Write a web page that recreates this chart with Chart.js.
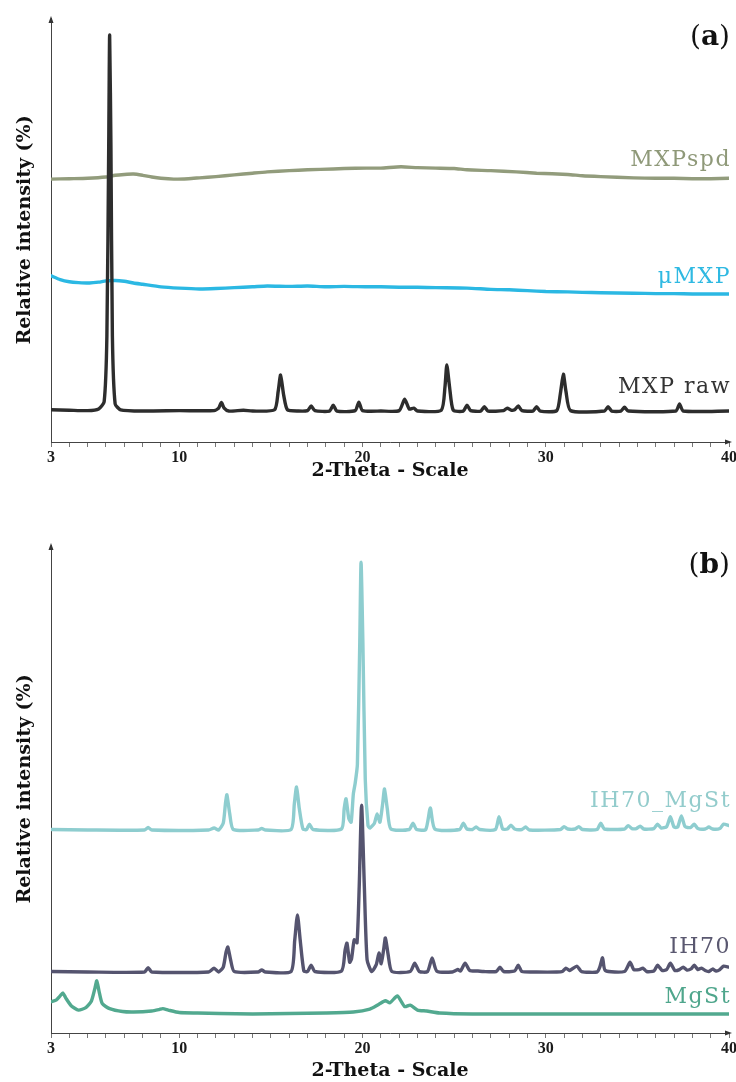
<!DOCTYPE html>
<html>
<head>
<meta charset="utf-8">
<script src="https://cdn.jsdelivr.net/npm/chart.js@4.4.0/dist/chart.umd.min.js"></script>
<style>
  html, body { margin: 0; padding: 0; background: #fff; overflow: hidden; }
  .panel { position: absolute; left: 0; width: 736px; }
  #panelA { top: 0; height: 500px; }
  #panelB { top: 520px; height: 562px; }
</style>
</head>
<body>
<div class="panel" id="panelA"><canvas id="chartA"></canvas></div>
<div class="panel" id="panelB"><canvas id="chartB"></canvas></div>
<script>
// tick labels shown on the 2-theta axis
const thetaLabels = [3, 10, 20, 30, 40];

// ---- panel (a) ----
const mxpRawTheta = [3, 4, 5, 5.6, 5.9, 6.05, 6.15, 6.2, 6.27, 6.35, 6.5, 6.8, 8, 10, 11.9, 12.15, 12.3, 12.45, 12.7, 13.5, 14,
  15.2, 15.4, 15.53, 15.7, 15.9, 16.5, 17.0, 17.2, 17.4, 18.2, 18.4, 18.6, 19.6, 19.8, 20.0, 21, 22.0, 22.3, 22.55, 22.8, 23.0,
  24.3, 24.5, 24.6, 24.75, 24.95, 25.5, 25.7, 25.9, 26.45, 26.65, 26.85, 27.7, 27.9, 28.1, 28.3, 28.5, 28.7, 29.3, 29.5, 29.7,
  30.6, 30.8, 30.96, 31.1, 31.35, 33.2, 33.4, 33.6, 34.1, 34.3, 34.5, 37.1, 37.3, 37.5, 40];
const mxpRawInt = [7.6, 7.5, 7.4, 7.8, 9.5, 25, 70, 96, 70, 25, 9, 7.6, 7.3, 7.4, 7.4, 8, 9.3, 8, 7.3, 7.5, 7.3,
  7.6, 12, 15.8, 11, 7.6, 7.3, 7.4, 8.5, 7.4, 7.3, 8.7, 7.3, 7.4, 9.4, 7.4, 7.3, 7.4, 10.1, 7.8, 8.0, 7.3,
  7.5, 13, 18.2, 13, 7.5, 7.3, 8.7, 7.4, 7.3, 8.3, 7.3, 7.4, 8.0, 7.5, 7.6, 8.5, 7.4, 7.3, 8.3, 7.3,
  7.4, 11.5, 16.0, 12, 7.4, 7.3, 8.3, 7.3, 7.3, 8.2, 7.3, 7.3, 9.0, 7.3, 7.3];

const microMxpTheta = [3, 3.5, 4, 4.5, 5.1, 5.6, 6.0, 6.5, 7.0, 7.5, 8, 9, 10, 11.1, 12, 13, 14, 14.8, 16, 17, 18, 19, 20.2,
  21, 22, 23, 24, 25.7, 27, 28, 29, 30, 31.2, 32, 33, 34.8, 36, 37, 38, 39, 40];
const microMxpInt = [39.2, 38.3, 37.8, 37.6, 37.5, 37.7, 38.0, 38.1, 37.9, 37.5, 37.2, 36.6, 36.3, 36.1, 36.2, 36.4, 36.6, 36.8,
  36.7, 36.8, 36.6, 36.7, 36.6, 36.6, 36.5, 36.5, 36.4, 36.3, 36.0, 35.9, 35.7, 35.5, 35.4, 35.3, 35.2, 35.1, 35.0, 35.0, 34.9,
  34.9, 34.9];

const mxpSpdTheta = [3, 4, 5, 6, 6.5, 7, 7.5, 8, 8.5, 9, 9.7, 10.5, 11.1, 12, 13, 14, 14.8, 16, 17, 18.4, 19, 20.2, 21, 22.1,
  23, 24, 25, 25.7, 27, 28.4, 29.5, 31.2, 32, 33, 34.8, 36, 37, 38, 39, 40];
const mxpSpdInt = [62.0, 62.1, 62.2, 62.5, 62.9, 63.1, 63.2, 62.9, 62.5, 62.2, 62.0, 62.1, 62.3, 62.6, 63.0, 63.4, 63.7, 64.0,
  64.2, 64.4, 64.5, 64.6, 64.6, 64.9, 64.7, 64.6, 64.5, 64.2, 64.0, 63.7, 63.4, 63.1, 62.8, 62.6, 62.3, 62.2, 62.2, 62.1, 62.1,
  62.2];

// ---- panel (b) ----
const ih70Theta = [3, 5, 8.1, 8.3, 8.5, 11.6, 11.9, 12.15, 12.4, 12.55, 12.65, 12.8, 13.0, 14.3, 14.5, 14.7, 16.1, 16.3, 16.45,
  16.6, 16.8, 17.0, 17.2, 17.4, 18.85, 19.05, 19.15, 19.3, 19.4, 19.55, 19.7, 19.82, 19.95, 20.1, 20.25, 20.5, 20.75, 20.9,
  21.02, 21.15, 21.25, 21.4, 21.6, 22.6, 22.85, 23.1, 23.55, 23.8, 24.05, 24.9, 25.2, 25.35, 25.6, 25.85, 26.3, 26.6, 27.3,
  27.5, 27.7, 28.3, 28.5, 28.7, 29.5, 30.6, 30.9, 31.1, 31.3, 31.7, 31.95, 32.8, 32.95, 33.1, 33.25, 34.3, 34.6, 34.8, 35.1,
  35.3, 35.5, 35.9, 36.1, 36.35, 36.6, 36.8, 37.05, 37.3, 37.5, 37.7, 37.95, 38.1, 38.3, 38.5, 38.7, 38.9, 39.1, 39.3, 39.5,
  39.7, 40];
const ih70Int = [12.6, 12.5, 12.5, 13.4, 12.5, 12.5, 13.3, 12.5, 13.5, 16.5, 17.6, 15, 12.6, 12.5, 12.9, 12.5, 12.6, 19, 24.2,
  19, 12.7, 12.6, 13.9, 12.6, 12.7, 17, 18.4, 14.5, 15.2, 19.1, 18.5, 30, 46.7, 30, 15, 12.6, 14, 16.4,
  14.2, 17, 19.5, 16, 12.6, 12.6, 14.3, 12.6, 12.6, 15.4, 12.7, 12.5, 13.0, 12.7, 14.3, 12.8, 12.7, 12.6, 12.6,
  13.5, 12.6, 12.7, 13.9, 12.6, 12.5, 12.5, 12.6, 13.3, 12.8, 13.7, 12.6, 12.5, 13.5, 15.4, 12.8, 12.6, 14.5, 13.0, 13.0,
  13.3, 12.6, 12.7, 13.9, 12.8, 13.0, 14.3, 12.8, 13.0, 13.5, 12.9, 13.2, 13.9, 13.0, 13.3, 12.8, 12.6, 13.1, 12.7, 13.0,
  13.7, 13.5];

const ih70MgStTheta = [3, 5, 8.1, 8.3, 8.5, 11.6, 11.9, 12.15, 12.4, 12.52, 12.6, 12.75, 12.95, 14.3, 14.5, 14.7, 16.1, 16.28,
  16.4, 16.55, 16.75, 16.95, 17.1, 17.3, 18.85, 19.0, 19.1, 19.25, 19.38, 19.5, 19.6, 19.72, 19.85, 19.92, 20.02, 20.15, 20.3,
  20.4, 20.65, 20.8, 20.95, 21.1, 21.2, 21.35, 21.55, 22.55, 22.75, 22.95, 23.45, 23.7, 23.95, 25.3, 25.5, 25.7, 26.0, 26.2,
  26.4, 27.25, 27.45, 27.65, 27.9, 28.1, 28.3, 28.7, 28.9, 29.1, 30.8, 31.0, 31.2, 31.6, 31.8, 32.0, 32.8, 33.0, 33.2, 34.3,
  34.5, 34.7, 34.95, 35.15, 35.35, 35.9, 36.1, 36.3, 36.6, 36.8, 37.0, 37.2, 37.4, 37.6, 37.9, 38.1, 38.3, 38.7, 38.9, 39.1,
  39.5, 39.7, 40];
const ih70MgStInt = [41.7, 41.6, 41.6, 42.1, 41.6, 41.6, 42.0, 41.6, 43, 47, 48.8, 45, 41.7, 41.6, 41.9, 41.6, 41.7, 47,
  50.4, 46, 41.8, 41.7, 42.8, 41.7, 41.8, 46, 48.0, 44, 43.2, 49, 51.2, 55, 80, 96.5, 80, 52, 42.5,
  42.0, 43, 44.9, 43.2, 47, 50.0, 46, 41.8, 41.7, 43.0, 41.7, 41.7, 46.1, 41.8, 41.7, 43.0, 41.8, 41.7, 42.2,
  41.7, 41.7, 44.3, 41.8, 41.8, 42.6, 41.8, 41.7, 42.2, 41.6, 41.7, 42.3, 41.8, 41.8, 42.3, 41.7, 41.7, 43.0, 41.8, 41.8,
  42.5, 41.9, 41.9, 42.4, 41.8, 41.9, 42.8, 42.0, 42.3, 44.3, 42.2, 42.2, 44.5, 42.3, 42.1, 42.8, 41.9, 41.8, 42.2, 41.8,
  41.9, 42.8, 42.5];

const mgStTheta = [3, 3.3, 3.5, 3.65, 3.8, 4.1, 4.5, 4.9, 5.2, 5.4, 5.5, 5.62, 5.8, 6.2, 6.9, 7.5, 8.5, 8.9, 9.1, 9.4, 10, 11,
  12.2, 14, 16, 18, 19.5, 20.4, 20.9, 21.25, 21.5, 21.9, 22.3, 22.6, 23.0, 23.5, 24.2, 26, 30.1, 34, 40];
const mgStInt = [6.4, 6.8, 7.6, 8.2, 7.2, 5.6, 4.7, 5.2, 6.5, 9.2, 10.7, 8.6, 6.0, 5.0, 4.4, 4.3, 4.5, 4.8, 5.0, 4.7, 4.2, 4.1,
  4.0, 3.9, 4.0, 4.1, 4.3, 4.9, 5.9, 6.6, 6.2, 7.6, 5.4, 5.7, 4.7, 4.5, 4.1, 3.9, 3.9, 3.9, 3.9];

const toPoints = (xs, ys) => xs.map((x, i) => ({ x: x, y: ys[i] }));

const serif = "'DejaVu Serif', 'Liberation Serif', serif";

// axis arrows, curve names and the panel letter
const decorations = {
  id: "decorations",
  afterDraw(chart, args, opts) {
    const ctx = chart.ctx;
    const area = chart.chartArea;
    const yScale = chart.scales.y;
    const xAxisY = chart.scales.x.top;
    ctx.save();
    ctx.fillStyle = "#333";
    ctx.beginPath();
    ctx.moveTo(area.left, area.top - 2);
    ctx.lineTo(area.left - 2.5, area.top + 5);
    ctx.lineTo(area.left + 2.5, area.top + 5);
    ctx.closePath();
    ctx.fill();
    ctx.beginPath();
    ctx.moveTo(area.right + 3, xAxisY);
    ctx.lineTo(area.right - 4, xAxisY - 2.5);
    ctx.lineTo(area.right - 4, xAxisY + 2.5);
    ctx.closePath();
    ctx.fill();

    ctx.textAlign = "right";
    ctx.textBaseline = "alphabetic";
    ctx.font = "22px " + serif;
    ctx.letterSpacing = "1.5px";
    opts.names.forEach(n => {
      ctx.fillStyle = n.color;
      ctx.fillText(n.text, area.right + 2, yScale.getPixelForValue(n.y));
    });

    ctx.letterSpacing = "0px";
    ctx.fillStyle = "#111";
    const y = yScale.getPixelForValue(opts.letterY);
    const normal = "28px " + serif;
    const bold = "bold 28px " + serif;
    ctx.font = normal;
    const wClose = ctx.measureText(")").width;
    ctx.font = bold;
    const wLetter = ctx.measureText(opts.letter).width;
    let x = area.right + 1;
    ctx.font = normal;
    ctx.fillText(")", x, y);
    x -= wClose;
    ctx.font = bold;
    ctx.fillText(opts.letter, x, y);
    x -= wLetter;
    ctx.font = normal;
    ctx.fillText("(", x, y);
    ctx.restore();
  }
};

function makeChart(canvasId, datasets, names, letter, letterY, topPad, xAxisHeight, titlePad) {
  return new Chart(document.getElementById(canvasId), {
    type: "line",
    data: { datasets: datasets },
    options: {
      responsive: true,
      maintainAspectRatio: false,
      animation: false,
      layout: { padding: { top: topPad, right: 7, left: 0, bottom: 0 } },
      elements: { point: { radius: 0 }, line: { borderWidth: 3.4, tension: 0.2, borderCapStyle: "round", borderJoinStyle: "round" } },
      plugins: {
        legend: { display: false },
        tooltip: { enabled: false },
        decorations: { names: names, letter: letter, letterY: letterY }
      },
      scales: {
        x: {
          type: "linear",
          min: 3,
          max: 40,
          grid: { drawOnChartArea: false, drawTicks: true, tickLength: 5, color: "#777" },
          border: { display: true, color: "#444", width: 1 },
          ticks: {
            stepSize: 1,
            autoSkip: false,
            maxRotation: 0,
            padding: 1,
            color: "#1a1a1a",
            font: { family: "'Liberation Serif', serif", size: 16, weight: "bold" },
            callback: v => (thetaLabels.includes(v) ? String(v) : "")
          },
          title: {
            display: true,
            text: "2-Theta - Scale",
            color: "#111",
            font: { family: serif, size: 19, weight: "bold" },
            padding: { top: 0, bottom: titlePad }
          },
          afterFit: s => { s.height = xAxisHeight; s.paddingLeft = 0; s.paddingRight = 0; }
        },
        y: {
          min: 0,
          max: 100,
          grid: { display: false },
          border: { display: true, color: "#444", width: 1 },
          ticks: { display: false },
          title: {
            display: true,
            text: "Relative intensity (%)",
            color: "#111",
            font: { family: serif, size: 19, weight: "bold" },
            padding: { top: 14, bottom: 0 }
          },
          afterFit: s => { s.width = 51; }
        }
      }
    },
    plugins: [decorations]
  });
}

makeChart("chartA", [
  { label: "MXP raw", data: toPoints(mxpRawTheta, mxpRawInt), borderColor: "#2d2d2d" },
  { label: "μMXP", data: toPoints(microMxpTheta, microMxpInt), borderColor: "#2bb8e3" },
  { label: "MXPspd", data: toPoints(mxpSpdTheta, mxpSpdInt), borderColor: "#929c7c" }
], [
  { text: "MXPspd", y: 65.1, color: "#8f9979" },
  { text: "μMXP", y: 37.5, color: "#2fb9e2" },
  { text: "MXP raw", y: 11.6, color: "#333333" }
], "a", 93.6, 18, 58, 18);

makeChart("chartB", [
  { label: "IH70", data: toPoints(ih70Theta, ih70Int), borderColor: "#55546f" },
  { label: "IH70_MgSt", data: toPoints(ih70MgStTheta, ih70MgStInt), borderColor: "#8ecdcf" },
  { label: "MgSt", data: toPoints(mgStTheta, mgStInt), borderColor: "#52a98f" }
], [
  { text: "IH70_MgSt", y: 46.3, color: "#93cccc" },
  { text: "IH70", y: 16.4, color: "#5a5870" },
  { text: "MgSt", y: 6.1, color: "#4fa68c" }
], "b", 94.3, 25, 49, 0);
</script>
</body>
</html>
